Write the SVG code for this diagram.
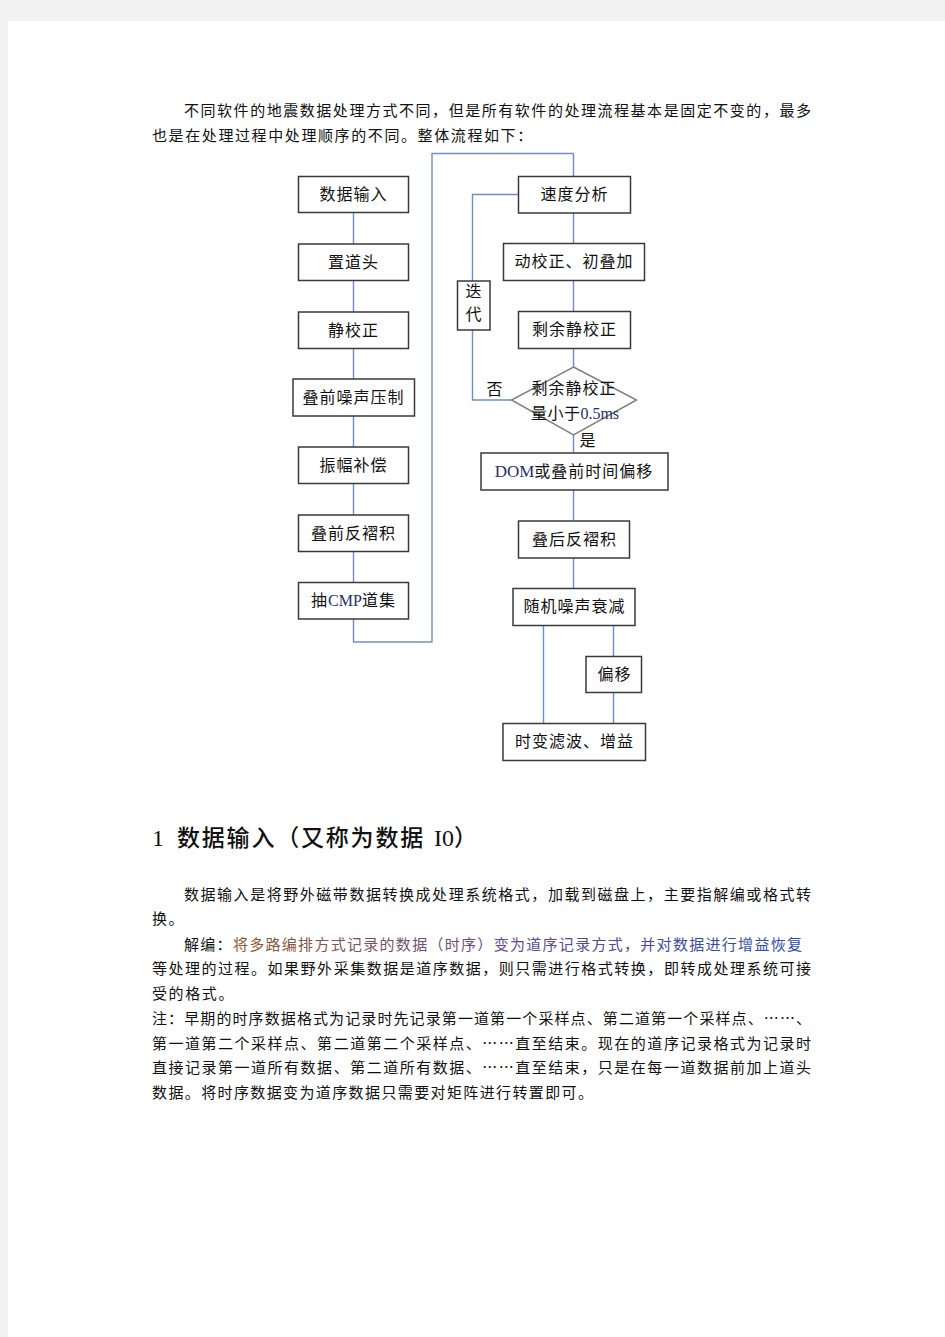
<svg xmlns="http://www.w3.org/2000/svg" width="945" height="1337" viewBox="0 0 945 1337">
<style>
.box{fill:#fff;stroke:#3a3a3a;stroke-width:1.5}
.dia{fill:#fff;stroke:#808080;stroke-width:1.5}
.con{fill:none;stroke:#6d8fc9;stroke-width:1.4}
.lbl{font-family:"Noto Sans CJK SC","Liberation Sans",sans-serif;font-size:16px;fill:#111;text-anchor:middle;letter-spacing:1px}
.lat{font-family:"Liberation Serif",serif;fill:#1f2f6a;letter-spacing:0}
.body{font-family:"Noto Sans CJK SC","Liberation Sans",sans-serif;font-size:15px;fill:#111}
.sp{letter-spacing:1.6px}
.head{font-family:"Noto Sans CJK SC","Liberation Serif",sans-serif;font-size:23px;fill:#111;font-weight:500}
</style>
<defs>
<linearGradient id="cg" gradientUnits="userSpaceOnUse" x1="234" y1="0" x2="802" y2="0">
<stop offset="0" stop-color="#8a5a2e"/>
<stop offset="0.45" stop-color="#6a4a8a"/>
<stop offset="1" stop-color="#2b4aa0"/>
</linearGradient>
</defs>
<rect x="0" y="0" width="945" height="1337" fill="#f2f2f2"/>
<rect x="8" y="21" width="937" height="1316" fill="#fff"/>

<g id="intro">
<text class="body" x="184" y="116" textLength="627" lengthAdjust="spacing">不同软件的地震数据处理方式不同，但是所有软件的处理流程基本是固定不变的，最多</text>
<text class="body sp" x="152" y="141">也是在处理过程中处理顺序的不同。整体流程如下：</text>
</g>

<g id="connectors">
<path class="con" d="M353.5 212.5V243.5M353.5 280.5V379M353.5 416V447M353.5 483.5V515M353.5 551.5V582.5"/>
<path class="con" d="M353.5 618.5V642H432V153.5H573.5V176"/>
<path class="con" d="M573.5 213V243M573.5 280V311M573.5 348.5V367M573.5 435V452.5M573.5 490V520.5M573.5 558V588"/>
<path class="con" d="M518.5 194.5H472.5V281M472.5 330V400H511.5"/>
<path class="con" d="M543.5 625.5V723M613.5 625.5V656M613.5 692.5V723"/>
</g>

<g id="n1"><rect class="box" x="298.5" y="176.5" width="110" height="36"/><text class="lbl" x="353.5" y="200">数据输入</text></g>
<g id="n2"><rect class="box" x="298.5" y="244" width="110" height="36.5"/><text class="lbl" x="353.5" y="268">置道头</text></g>
<g id="n3"><rect class="box" x="298.5" y="312" width="110" height="36.5"/><text class="lbl" x="353.5" y="336">静校正</text></g>
<g id="n4"><rect class="box" x="293" y="379" width="121.5" height="37"/><text class="lbl" x="353.5" y="403">叠前噪声压制</text></g>
<g id="n5"><rect class="box" x="298.5" y="447" width="110" height="36.5"/><text class="lbl" x="353.5" y="471">振幅补偿</text></g>
<g id="n6"><rect class="box" x="298.5" y="515" width="110" height="36.5"/><text class="lbl" x="353.5" y="539">叠前反褶积</text></g>
<g id="n7"><rect class="box" x="298.5" y="582.5" width="110" height="36.5"/><text class="lbl" x="353.5" y="606">抽<tspan class="lat">CMP</tspan>道集</text></g>

<g id="r1"><rect class="box" x="518.5" y="176.5" width="112" height="36.5"/><text class="lbl" x="574.5" y="200">速度分析</text></g>
<g id="r2"><rect class="box" x="503.5" y="243.5" width="141" height="37"/><text class="lbl" x="574" y="267">动校正、初叠加</text></g>
<g id="r3"><rect class="box" x="518.5" y="311.5" width="112" height="37"/><text class="lbl" x="574.5" y="335">剩余静校正</text></g>
<g id="loop"><rect class="box" x="457.5" y="281" width="32.5" height="49"/><text class="lbl" x="474" y="297">迭</text><text class="lbl" x="474" y="320">代</text></g>
<g id="dec"><polygon class="dia" points="573.5,367 636.5,400 573.5,435 511.5,400"/>
<text class="lbl" x="574" y="394">剩余静校正</text>
<text class="lbl" x="575" y="419" style="letter-spacing:0.5px">量小于<tspan class="lat" font-size="16">0.5ms</tspan></text></g>
<g id="lab-no"><text class="lbl" x="495" y="395">否</text></g>
<g id="lab-yes"><text class="lbl" x="588" y="446">是</text></g>
<g id="r4"><rect class="box" x="481" y="453" width="187" height="37"/><text class="lbl" x="574" y="477"><tspan class="lat" font-size="17">DOM</tspan>或叠前时间偏移</text></g>
<g id="r5"><rect class="box" x="518.5" y="521" width="111" height="37"/><text class="lbl" x="574.5" y="545">叠后反褶积</text></g>
<g id="r6"><rect class="box" x="513" y="588.5" width="122" height="37"/><text class="lbl" x="574.5" y="612">随机噪声衰减</text></g>
<g id="r7"><rect class="box" x="586" y="656.5" width="55.5" height="36"/><text class="lbl" x="614.5" y="680">偏移</text></g>
<g id="r8"><rect class="box" x="503" y="723.5" width="142.5" height="37"/><text class="lbl" x="574.5" y="747">时变滤波、增益</text></g>

<g id="section">
<text class="head" x="152" y="846"><tspan font-family="Liberation Serif,serif" font-size="24">1</tspan><tspan x="177" letter-spacing="1.8">数据输入（又称为数据</tspan><tspan font-family="Liberation Serif,serif" font-size="24" x="434">I0</tspan><tspan>）</tspan></text>
<text class="body" x="184" y="900" textLength="627" lengthAdjust="spacing">数据输入是将野外磁带数据转换成处理系统格式，加载到磁盘上，主要指解编或格式转</text>
<text class="body sp" x="152" y="924">换。</text>
<text class="body" x="184" y="950" textLength="618" lengthAdjust="spacing">解编：<tspan fill="url(#cg)">将多路编排方式记录的数据（时序）变为道序记录方式，并对数据进行增益恢复</tspan></text>
<text class="body" x="152" y="974" textLength="659" lengthAdjust="spacing">等处理的过程。如果野外采集数据是道序数据，则只需进行格式转换，即转成处理系统可接</text>
<text class="body sp" x="152" y="999">受的格式。</text>
<text class="body" x="152" y="1024" textLength="659" lengthAdjust="spacing">注：早期的时序数据格式为记录时先记录第一道第一个采样点、第二道第一个采样点、……、</text>
<text class="body" x="152" y="1049" textLength="659" lengthAdjust="spacing">第一道第二个采样点、第二道第二个采样点、……直至结束。现在的道序记录格式为记录时</text>
<text class="body" x="152" y="1073" textLength="659" lengthAdjust="spacing">直接记录第一道所有数据、第二道所有数据、……直至结束，只是在每一道数据前加上道头</text>
<text class="body" x="152" y="1098" textLength="441" lengthAdjust="spacing">数据。将时序数据变为道序数据只需要对矩阵进行转置即可。</text>
</g>
</svg>
